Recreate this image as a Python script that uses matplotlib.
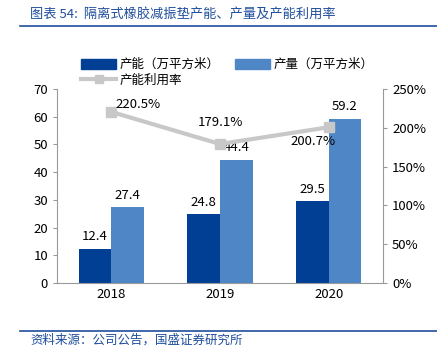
import matplotlib
matplotlib.use("Agg")
import matplotlib.pyplot as plt
import numpy as np
from matplotlib.lines import Line2D
from matplotlib.patches import Patch

plt.rcParams["font.family"] = ["Noto Sans CJK SC", "DejaVu Sans"]

years = ["2018", "2019", "2020"]
capacity = [12.4, 24.8, 29.5]
output = [27.4, 44.4, 59.2]
utilization = [220.5, 179.1, 200.7]

DARK = "#003f94"
LIGHT = "#4f86c6"
GRAY = "#c8c8c8"
BLUE_TXT = "#1f4e9c"

fig = plt.figure(figsize=(4.37, 3.62), dpi=100)
ax = fig.add_axes([57 / 437, 1 - 283 / 362, 326 / 437, 194 / 362])

x = np.arange(len(years))
w = 0.3
ax.bar(x - w / 2, capacity, w, color=DARK, zorder=2)
ax.bar(x + w / 2, output, w, color=LIGHT, zorder=2)
for i in range(len(years)):
    ax.text(x[i] - w / 2, capacity[i] + 2, f"{capacity[i]:.1f}", ha="center", va="bottom", fontsize=9.5)
    ax.text(x[i] + w / 2, output[i] + 2, f"{output[i]:.1f}", ha="center", va="bottom", fontsize=9.5)

ax.set_xlim(-0.5, 2.5)
ax.set_ylim(0, 70)
ax.set_yticks(range(0, 71, 10))
ax.set_xticks(x)
ax.set_xticklabels(years)
ax.tick_params(axis="both", labelsize=9.5, color="#999999", length=3)
ax.tick_params(axis="x", length=0)
for s in ["left", "bottom"]:
    ax.spines[s].set_color("#999999")
ax.spines["top"].set_visible(False)
ax.spines["right"].set_visible(False)

ax2 = ax.twinx()
ax2.plot(x, utilization, color=GRAY, lw=3, marker="s", ms=7, zorder=3)
ax2.set_ylim(0, 250)
ax2.set_yticks(range(0, 251, 50))
ax2.set_yticklabels([f"{v}%" for v in range(0, 251, 50)])
ax2.tick_params(axis="y", labelsize=9.5, color="#999999", length=3)
ax2.spines["right"].set_color("#999999")
for s in ["left", "top", "bottom"]:
    ax2.spines[s].set_visible(False)

offsets = [(0.25, 10), (0.0, 28), (-0.14, -18)]
for i, v in enumerate(utilization):
    dx, dy = offsets[i]
    ax2.text(x[i] + dx, v + dy, f"{v:.1f}%", ha="center", va="center", fontsize=9.5)

handles = [Patch(color=DARK),
           Line2D([], [], color=GRAY, lw=3, marker="s", ms=6),
           Patch(color=LIGHT)]
labels = ["产能（万平方米）", "产能利用率", "产量（万平方米）"]
fig.legend(handles, labels, loc="upper left", bbox_to_anchor=(70 / 437, 1 - 47 / 362),
           ncol=2, frameon=False, fontsize=9, handlelength=2.8, handleheight=0.9,
           columnspacing=1.2, labelspacing=0.2, handletextpad=0.3)

fig.text(30 / 437, 1 - 14 / 362, "图表 54:  隔离式橡胶减振垫产能、产量及产能利用率",
         color=BLUE_TXT, fontsize=9.5, style="italic", va="center", ha="left")
fig.add_artist(Line2D([20 / 437, 1], [1 - 26 / 362] * 2, color=BLUE_TXT, lw=1.2))
fig.add_artist(Line2D([20 / 437, 1], [1 - 331 / 362] * 2, color=BLUE_TXT, lw=1.2))
fig.text(30 / 437, 1 - 340 / 362, "资料来源：公司公告，国盛证券研究所",
         color=BLUE_TXT, fontsize=9, style="italic", va="center", ha="left")

fig.savefig("out.png", dpi=100)
